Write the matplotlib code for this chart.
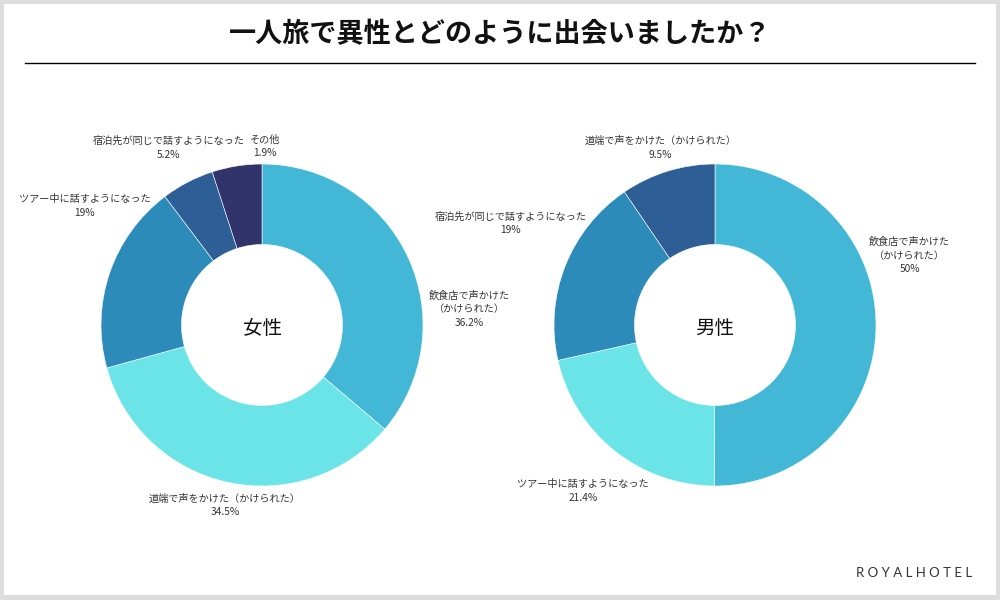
import matplotlib
matplotlib.use("Agg")
import matplotlib.pyplot as plt
from matplotlib.patches import Rectangle

plt.rcParams['font.family'] = ['Noto Sans CJK JP', 'DejaVu Sans']

# data
title = "一人旅で異性とどのように出会いましたか？"

women_labels = ["飲食店で声かけた\n（かけられた）", "道端で声をかけた（かけられた）",
                "ツアー中に話すようになった", "宿泊先が同じで話すようになった", "その他"]
women_pct = ["36.2%", "34.5%", "19%", "5.2%", "1.9%"]
women_share = [36.2, 34.5, 19.0, 5.3, 5.0]   # wedge sizes as drawn

men_labels = ["飲食店で声かけた\n（かけられた）", "ツアー中に話すようになった",
              "宿泊先が同じで話すようになった", "道端で声をかけた（かけられた）"]
men_pct = ["50%", "21.4%", "19%", "9.5%"]
men_share = [50.0, 21.4, 19.0, 9.5]

colors = ["#43b8d6", "#6be4e8", "#2d8bba", "#2e5e96", "#31336b"]

# label layout (in radius units around each pie centre)
women_pos = [(1.29, 0.10), (-0.23, -1.12), (-1.10, 0.74), (-0.58, 1.10), (0.02, 1.11)]
men_pos = [(1.21, 0.43), (-0.82, -1.03), (-1.27, 0.63), (-0.34, 1.10)]

W, H = 1000, 600
R = 161
fig = plt.figure(figsize=(10, 6), dpi=100)
fig.patch.set_facecolor("#dddddd")
fig.patches.append(Rectangle((4 / W, 5 / H), 992 / W, 591 / H, transform=fig.transFigure,
                             facecolor="white", edgecolor="none", zorder=-5))

fig.text(0.5, 1 - 34 / H, title, ha="center", va="center", fontsize=19.5,
         fontweight="bold", color="#111111")
fig.add_artist(plt.Line2D([25 / W, 975 / W], [1 - 63 / H, 1 - 63 / H],
                          transform=fig.transFigure, color="black", lw=1.0))


def draw_donut(cx, cy, shares, labels, pcts, pos, name):
    half = 230
    ax = fig.add_axes([(cx - half) / W, 1 - (cy + half) / H, 2 * half / W, 2 * half / H])
    ax.set_zorder(2)
    lim = half / R
    ax.pie(shares, colors=colors[:len(shares)], startangle=90, counterclock=False,
           radius=1.0, wedgeprops=dict(width=0.5, edgecolor="white", linewidth=0.4))
    ax.set_xlim(-lim, lim)
    ax.set_ylim(-lim, lim)
    ax.set_aspect("equal")
    ax.axis("off")
    for lab, p, (x, y) in zip(labels, pcts, pos):
        ax.text(x, y, lab + "\n" + p, ha="center", va="center", fontsize=7.3,
                color="#333333", linespacing=1.45)
    ax.text(0, -0.02, name, ha="center", va="center", fontsize=14, color="#111111")


draw_donut(262, 325, women_share, women_labels, women_pct, women_pos, "女性")
draw_donut(715, 325, men_share, men_labels, men_pct, men_pos, "男性")

fig.text(972 / W, 1 - 573 / H, "R O Y A L H O T E L", ha="right", va="center",
         fontsize=9.5, color="#333333", family=["Lato", "DejaVu Sans"])

fig.savefig("out.png", dpi=100, facecolor=fig.get_facecolor())
